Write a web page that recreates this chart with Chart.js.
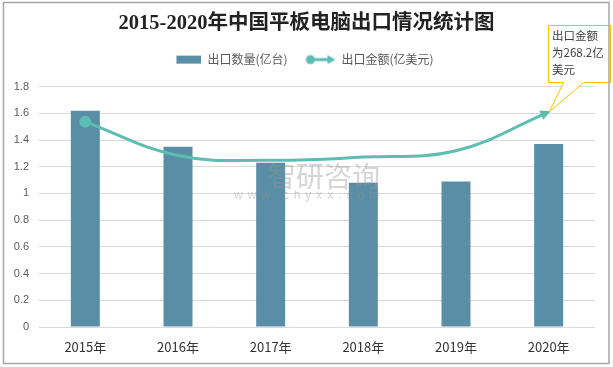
<!DOCTYPE html>
<html>
<head>
<meta charset="utf-8">
<script src="https://cdn.jsdelivr.net/npm/chart.js@4/dist/chart.umd.min.js"></script>
<style>
  html, body { margin: 0; padding: 0; background: #fff; }
  #wrap { width: 613px; height: 367px; position: relative; }
</style>
</head>
<body>
<div id="wrap"><canvas id="chart"></canvas></div>
<script>
// data
const years = ['2015年', '2016年', '2017年', '2018年', '2019年', '2020年'];
const exportQty = [1.62, 1.35, 1.23, 1.08, 1.09, 1.37];      // 亿台
const exportValue = [256, 214, 208, 212, 220, 268.2];        // 亿美元 (hidden 2nd axis)
const seriesNames = ['出口数量(亿台)', '出口金额(亿美元)'];
const calloutLines = ['出口金额', '为268.2亿', '美元'];
const titleText = '2015-2020年中国平板电脑出口情况统计图';

const barColor = '#5A8EA6';
const lineColor = '#5CBDB2';
const cjk = '"Microsoft YaHei", "Noto Sans CJK SC", "Liberation Sans", sans-serif';

// legend icons
function barIcon() {
    const c = document.createElement('canvas');
    c.width = 30; c.height = 10;
    const g = c.getContext('2d');
    g.fillStyle = barColor;
    g.fillRect(5, 1, 25, 8);
    return c;
}
function lineIcon() {
    const c = document.createElement('canvas');
    c.width = 30; c.height = 12;
    const g = c.getContext('2d');
    g.strokeStyle = lineColor; g.fillStyle = lineColor; g.lineWidth = 3;
    g.beginPath(); g.moveTo(6, 6); g.lineTo(24, 6); g.stroke();
    g.beginPath(); g.arc(5, 6, 4.5, 0, Math.PI * 2); g.fill();
    g.beginPath(); g.moveTo(30, 6); g.lineTo(22, 1.5); g.lineTo(22, 10.5); g.closePath(); g.fill();
    return c;
}

// a bit more room under the legend, and nudge it left a little
const legendGap = {
    id: 'legendGap',
    beforeLayout(chart) {
        const lg = chart.legend;
        if (lg && !lg._gapPatched) {
            const fit = lg.fit;
            lg.fit = function() { fit.call(this); this.height += 11; };
            const draw = lg.draw;
            lg.draw = function() {
                this.ctx.save();
                this.ctx.translate(-4, 0);
                draw.call(this);
                this.ctx.restore();
            };
            lg._gapPatched = true;
        }
    }
};

// frame, arrow head, callout and watermark
const extras = {
    id: 'extras',
    afterDatasetsDraw(chart) {
        const ctx = chart.ctx;
        const pts = chart.getDatasetMeta(0).data;
        const last = pts[pts.length - 1];

        // arrow at end of the line
        const ang = Math.atan2(last.y - last.cp1y, last.x - last.cp1x);
        ctx.save();
        ctx.translate(last.x, last.y);
        ctx.rotate(ang);
        ctx.fillStyle = lineColor;
        ctx.beginPath();
        ctx.moveTo(2, 0); ctx.lineTo(-8, -5); ctx.lineTo(-8, 5); ctx.closePath();
        ctx.fill();
        ctx.restore();

        // watermark
        ctx.save();
        ctx.fillStyle = 'rgba(150,150,150,0.4)';
        ctx.font = '28px ' + cjk;
        ctx.textBaseline = 'middle';
        ctx.fillText('智研咨询', 268, 176);
        ctx.font = '12px "Liberation Sans", sans-serif';
        ctx.letterSpacing = '5px';
        ctx.fillText('www.chyxx.com', 234, 196);
        ctx.restore();

        // callout
        const bx = 548, by = 25, bw = 62, bh = 57;
        ctx.save();
        ctx.strokeStyle = '#FFC000';
        ctx.lineWidth = 1;
        ctx.fillStyle = '#fff';
        ctx.beginPath();
        ctx.moveTo(bx + 0.5, by + 0.5);
        ctx.lineTo(bx + bw + 0.5, by + 0.5);
        ctx.lineTo(bx + bw + 0.5, by + bh + 0.5);
        ctx.lineTo(583.5, by + bh + 0.5);
        ctx.lineTo(last.x + 0.5, last.y);
        ctx.lineTo(563.5, by + bh + 0.5);
        ctx.lineTo(bx + 0.5, by + bh + 0.5);
        ctx.closePath();
        ctx.fill();
        ctx.stroke();
        ctx.fillStyle = '#404040';
        ctx.font = '11.5px ' + cjk;
        ctx.textBaseline = 'middle';
        calloutLines.forEach((t, i) => ctx.fillText(t, bx + 4, by + 11 + i * 17));
        ctx.restore();

        // outer frame
        ctx.save();
        ctx.strokeStyle = '#A6A6A6';
        ctx.lineWidth = 1.5;
        ctx.strokeRect(3.5, 2.5, 605.5, 361);
        ctx.restore();
    }
};

const ctx = document.getElementById('chart').getContext('2d');
const chart = new Chart(ctx, {
    data: {
        labels: years,
        datasets: [
            {
                type: 'line',
                label: seriesNames[1],
                data: exportValue,
                yAxisID: 'y1',
                borderColor: lineColor,
                backgroundColor: lineColor,
                borderWidth: 3,
                tension: 0.4,
                pointRadius: [4.5, 0, 0, 0, 0, 0],
                pointHoverRadius: 0,
                order: 0
            },
            {
                type: 'bar',
                label: seriesNames[0],
                data: exportQty,
                yAxisID: 'y',
                backgroundColor: barColor,
                barPercentage: 1,
                categoryPercentage: 0.313,
                order: 1
            }
        ]
    },
    plugins: [legendGap, extras],
    options: {
        responsive: true,
        maintainAspectRatio: false,
        animation: false,
        layout: { padding: { left: 4, right: 4, top: 0, bottom: 0 } },
        plugins: {
            title: {
                display: true,
                text: titleText,
                color: '#222',
                font: { family: '"Liberation Serif", "Noto Sans CJK SC", serif', size: 20.5, weight: 'bold' },
                padding: { top: 11, bottom: 0 }
            },
            legend: {
                display: true,
                labels: {
                    usePointStyle: true,
                    pointStyleWidth: 30,
                    boxHeight: 10,
                    padding: 18,
                    color: '#595959',
                    font: { family: cjk, size: 12 },
                    generateLabels: () => [
                        { text: seriesNames[0], pointStyle: barIcon(), datasetIndex: 1, fontColor: '#595959', lineWidth: 0, strokeStyle: 'transparent' },
                        { text: seriesNames[1], pointStyle: lineIcon(), datasetIndex: 0, fontColor: '#595959', lineWidth: 0, strokeStyle: 'transparent' }
                    ]
                }
            },
            tooltip: { enabled: false }
        },
        scales: {
            x: {
                grid: { display: false, drawTicks: false },
                border: { display: false },
                ticks: { color: '#333', padding: 12, font: { family: cjk, size: 13 } },
                afterFit: s => { s.height = 40; }
            },
            y: {
                min: 0, max: 1.8,
                grid: { color: '#D9D9D9', lineWidth: 1, drawTicks: false },
                border: { display: false },
                ticks: {
                    stepSize: 0.2,
                    padding: 10,
                    color: '#595959',
                    font: { family: '"Liberation Sans", sans-serif', size: 11 },
                    callback: v => String(Number(v.toFixed(1)))
                },
                afterFit: s => { s.width = 35; }
            },
            y1: {
                position: 'right',
                min: 0, max: 300,
                grid: { display: false, drawTicks: false },
                border: { display: false },
                ticks: { display: false },
                afterFit: s => { s.width = 14; }
            }
        }
    }
});
</script>
</body>
</html>
